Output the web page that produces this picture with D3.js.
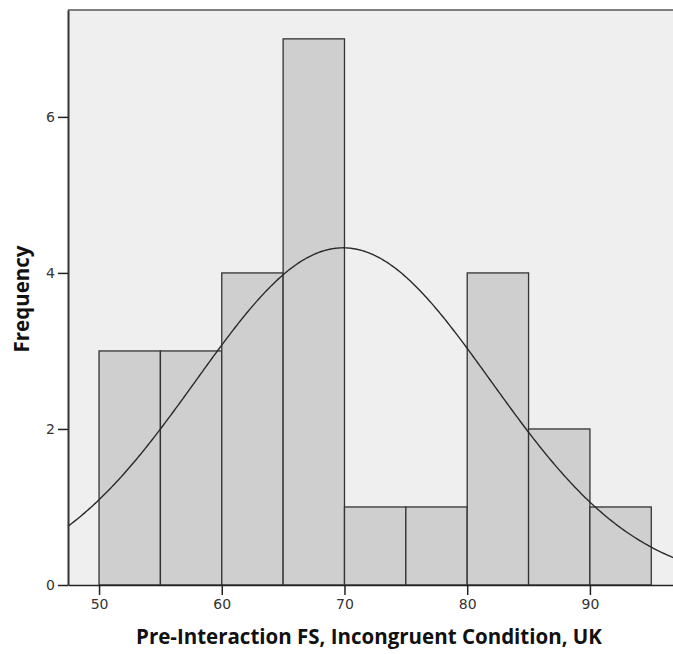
<!DOCTYPE html>
<html>
<head>
<meta charset="utf-8">
<script src="https://cdn.jsdelivr.net/npm/d3@7"></script>
<style>
  html, body { margin: 0; padding: 0; background: #ffffff; }
  svg { display: block; }
</style>
</head>
<body>
<svg id="chart" width="673" height="654"></svg>
<script>
// Histogram bins (lower edge, width 5) and counts
const binStarts = [50, 55, 60, 65, 70, 75, 80, 85, 90];
const binWidth = 5;
const counts = [3, 3, 4, 7, 1, 1, 4, 2, 1];
const xTicks = [50, 60, 70, 80, 90];
const yTicks = [0, 2, 4, 6];
// Fitted normal curve parameters
const curveMean = 69.9;
const curveSd = 12.0;

const svg = d3.select("#chart");
const plot = { left: 68, top: 10, right: 673, bottom: 585 };

const x = d3.scaleLinear().domain([47.47, 96.77]).range([plot.left, plot.right]);
const y = d3.scaleLinear().domain([0, 7.37]).range([plot.bottom, plot.top]);

// Plot background
svg.append("rect")
  .attr("x", plot.left).attr("y", plot.top)
  .attr("width", plot.right - plot.left).attr("height", plot.bottom - plot.top)
  .attr("fill", "#efefef");

// Bars
const bins = binStarts.map((s, i) => ({ x0: s, x1: s + binWidth, n: counts[i] }));
svg.append("g").selectAll("rect").data(bins).join("rect")
  .attr("x", d => x(d.x0))
  .attr("y", d => y(d.n))
  .attr("width", d => x(d.x1) - x(d.x0))
  .attr("height", d => y(0) - y(d.n))
  .attr("fill", "#cfcfcf")
  .attr("stroke", "#333333")
  .attr("stroke-width", 1.3);

// Normal curve scaled to counts
const total = d3.sum(counts);
const density = v => total * binWidth / (curveSd * Math.sqrt(2 * Math.PI)) *
  Math.exp(-((v - curveMean) ** 2) / (2 * curveSd * curveSd));
const xs = d3.range(0, 401).map(i => x.domain()[0] + (x.domain()[1] - x.domain()[0]) * i / 400);
svg.append("path")
  .datum(xs)
  .attr("fill", "none")
  .attr("stroke", "#2a2a2a")
  .attr("stroke-width", 1.4)
  .attr("d", d3.line().x(v => x(v)).y(v => y(density(v))));

// Top border
svg.append("line")
  .attr("x1", plot.left).attr("x2", plot.right)
  .attr("y1", plot.top).attr("y2", plot.top)
  .attr("stroke", "#7f7f7f").attr("stroke-width", 2);

// Axes
const xAxis = d3.axisBottom(x).tickValues(xTicks).tickSize(10).tickPadding(4).tickSizeOuter(0);
const gx = svg.append("g").attr("transform", `translate(0,${plot.bottom})`).call(xAxis);
gx.select(".domain").attr("stroke", "#222").attr("stroke-width", 1.5);
gx.selectAll(".tick line").attr("stroke", "#222").attr("stroke-width", 1.5);
gx.selectAll("text").attr("font-family", "DejaVu Sans, sans-serif").attr("font-size", 14).attr("fill", "#333");

const yAxis = d3.axisLeft(y).tickValues(yTicks).tickSize(10).tickPadding(3).tickSizeOuter(0);
const gy = svg.append("g").attr("transform", `translate(${plot.left},0)`).call(yAxis);
gy.select(".domain").attr("stroke", "#333").attr("stroke-width", 2);
gy.selectAll(".tick line").attr("stroke", "#222").attr("stroke-width", 1.5);
gy.selectAll("text").attr("font-family", "DejaVu Sans, sans-serif").attr("font-size", 14).attr("fill", "#333");

// Axis titles
svg.append("text")
  .attr("x", 369).attr("y", 644)
  .attr("text-anchor", "middle")
  .attr("font-family", "Open Sans, sans-serif")
  .attr("font-weight", "bold")
  .attr("font-size", 20.5)
  .attr("fill", "#111")
  .text("Pre-Interaction FS, Incongruent Condition, UK");

svg.append("text")
  .attr("transform", "translate(29,299) rotate(-90)")
  .attr("text-anchor", "middle")
  .attr("font-family", "Open Sans, sans-serif")
  .attr("font-weight", "bold")
  .attr("font-size", 20.5)
  .attr("fill", "#111")
  .text("Frequency");
</script>
</body>
</html>
